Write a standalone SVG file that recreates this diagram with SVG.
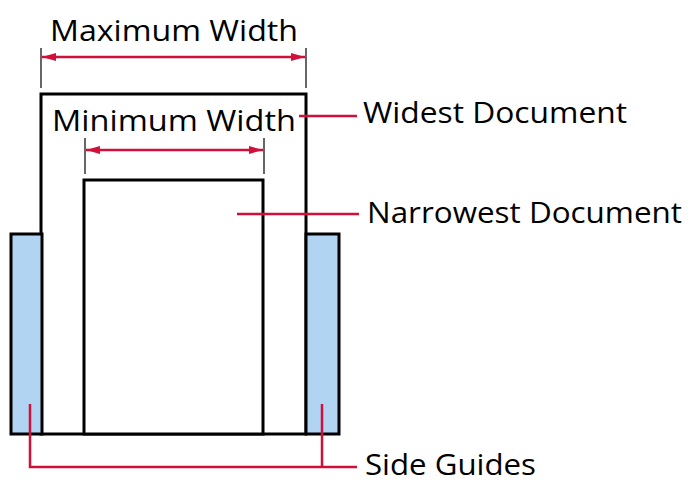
<svg xmlns="http://www.w3.org/2000/svg" width="689" height="480" viewBox="0 0 689 480">
<style>
.t{font-family:"Open Sans","Noto Sans",sans-serif;font-size:29.5px;fill:#000}
.box{fill:#fff;stroke:#000;stroke-width:3}
.guide{fill:#b0d4f2;stroke:#000;stroke-width:3}
.red{stroke:#d0103a;stroke-width:2.5;fill:none}
.tick{stroke:#000;stroke-width:1.2}
</style>
<defs>
<marker id="ah" viewBox="0 0 10 10" refX="10" refY="5" markerWidth="14" markerHeight="8" markerUnits="userSpaceOnUse" orient="auto-start-reverse" preserveAspectRatio="none">
<path d="M0,0 L10,5 L0,10 z" fill="#d0103a"/>
</marker>
</defs>
<rect width="689" height="480" fill="#fff"/>
<g id="widest-document">
<rect class="box" x="41" y="94" width="265" height="340"/>
</g>
<g id="narrowest-document">
<rect class="box" x="84" y="180" width="179" height="254"/>
</g>
<g id="side-guide-left">
<rect class="guide" x="11" y="234" width="31" height="200"/>
</g>
<g id="side-guide-right">
<rect class="guide" x="306" y="234" width="33" height="200"/>
</g>
<g id="maximum-width">
<line class="tick" x1="41" y1="48" x2="41" y2="88"/>
<line class="tick" x1="306" y1="48" x2="306" y2="88"/>
<text class="t" x="50" y="41" textLength="248" lengthAdjust="spacingAndGlyphs">Maximum Width</text>
</g>
<g id="minimum-width">
<line class="tick" x1="85" y1="138" x2="85" y2="174"/>
<line class="tick" x1="264" y1="138" x2="264" y2="174"/>
<text class="t" x="52" y="131" textLength="244" lengthAdjust="spacingAndGlyphs">Minimum Width</text>
</g>
<g id="labels">
<text class="t" x="363" y="123" textLength="264" lengthAdjust="spacingAndGlyphs">Widest Document</text>
<text class="t" x="367" y="223" textLength="315" lengthAdjust="spacingAndGlyphs">Narrowest Document</text>
<text class="t" x="365" y="475" textLength="171" lengthAdjust="spacingAndGlyphs">Side Guides</text>
</g>
<g id="connectors">
<line class="red" x1="42" y1="57" x2="305" y2="57" marker-start="url(#ah)" marker-end="url(#ah)"/>
<line class="red" x1="86" y1="150" x2="263" y2="150" marker-start="url(#ah)" marker-end="url(#ah)"/>
<line class="red" x1="299" y1="116" x2="357" y2="116"/>
<line class="red" x1="237" y1="214" x2="359" y2="214"/>
<polyline class="red" points="30,404 30,467 357,467"/>
<line class="red" x1="322" y1="404" x2="322" y2="467"/>
</g>
</svg>
